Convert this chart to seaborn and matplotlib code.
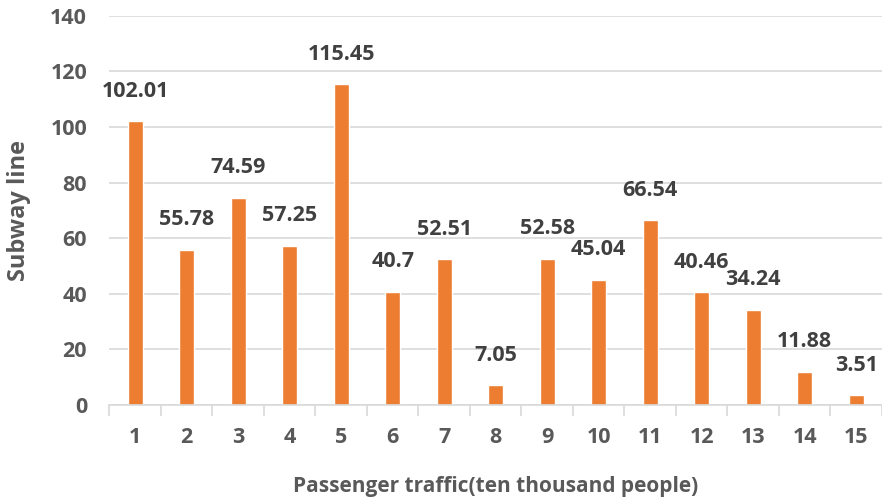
import matplotlib
matplotlib.use("Agg")
import matplotlib.pyplot as plt
import pandas as pd
import seaborn as sns

# data
lines = ["1", "2", "3", "4", "5", "6", "7", "8", "9", "10", "11", "12", "13", "14", "15"]
traffic = [102.01, 55.78, 74.59, 57.25, 115.45, 40.7, 52.51, 7.05, 52.58, 45.04,
           66.54, 40.46, 34.24, 11.88, 3.51]
y_ticks = [0, 20, 40, 60, 80, 100, 120, 140]

sns.set_theme(style="white")
plt.rcParams["font.family"] = ["Open Sans", "DejaVu Sans"]

df = pd.DataFrame({"line": lines, "traffic": traffic})

fig = plt.figure(figsize=(8.82, 4.98), dpi=100)
ax = fig.add_axes([0.124, 0.187, 0.876, 0.781])

sns.barplot(data=df, x="line", y="traffic", order=lines, color="#ED7D31",
            width=0.29, saturation=1, ax=ax)

for c in ax.containers:
    ax.bar_label(c, labels=[f"{v:g}" for v in traffic], padding=14,
                 fontsize=15.5, fontweight="bold", color="#404040")

ax.set_ylim(0, 140)
ax.set_yticks(y_ticks)
ax.set_xlim(-0.5, len(lines) - 0.5)
ax.yaxis.grid(True, color="#D9D9D9", linewidth=1.2)
ax.set_axisbelow(True)

for s in ["top", "right", "left"]:
    ax.spines[s].set_visible(False)
ax.spines["bottom"].set_color("#D9D9D9")
ax.spines["bottom"].set_linewidth(1.2)

# category separators like the excel style ticks
ax.set_xticks([i - 0.5 for i in range(len(lines) + 1)], minor=True)
ax.tick_params(axis="x", which="minor", length=8, width=1.2, color="#D9D9D9", bottom=True)
ax.tick_params(axis="x", which="major", length=0, pad=16)
ax.tick_params(axis="y", length=0, pad=16)
for lab in ax.get_xticklabels() + ax.get_yticklabels():
    lab.set_fontsize(15.5)
    lab.set_fontweight("bold")
    lab.set_color("#595959")

ax.set_xlabel("Passenger traffic(ten thousand people)", fontsize=15,
              fontweight="bold", color="#595959", labelpad=20)
ax.set_ylabel("Subway line", fontsize=17, fontweight="bold", color="#595959", labelpad=14)

fig.savefig("out.png", dpi=100)
